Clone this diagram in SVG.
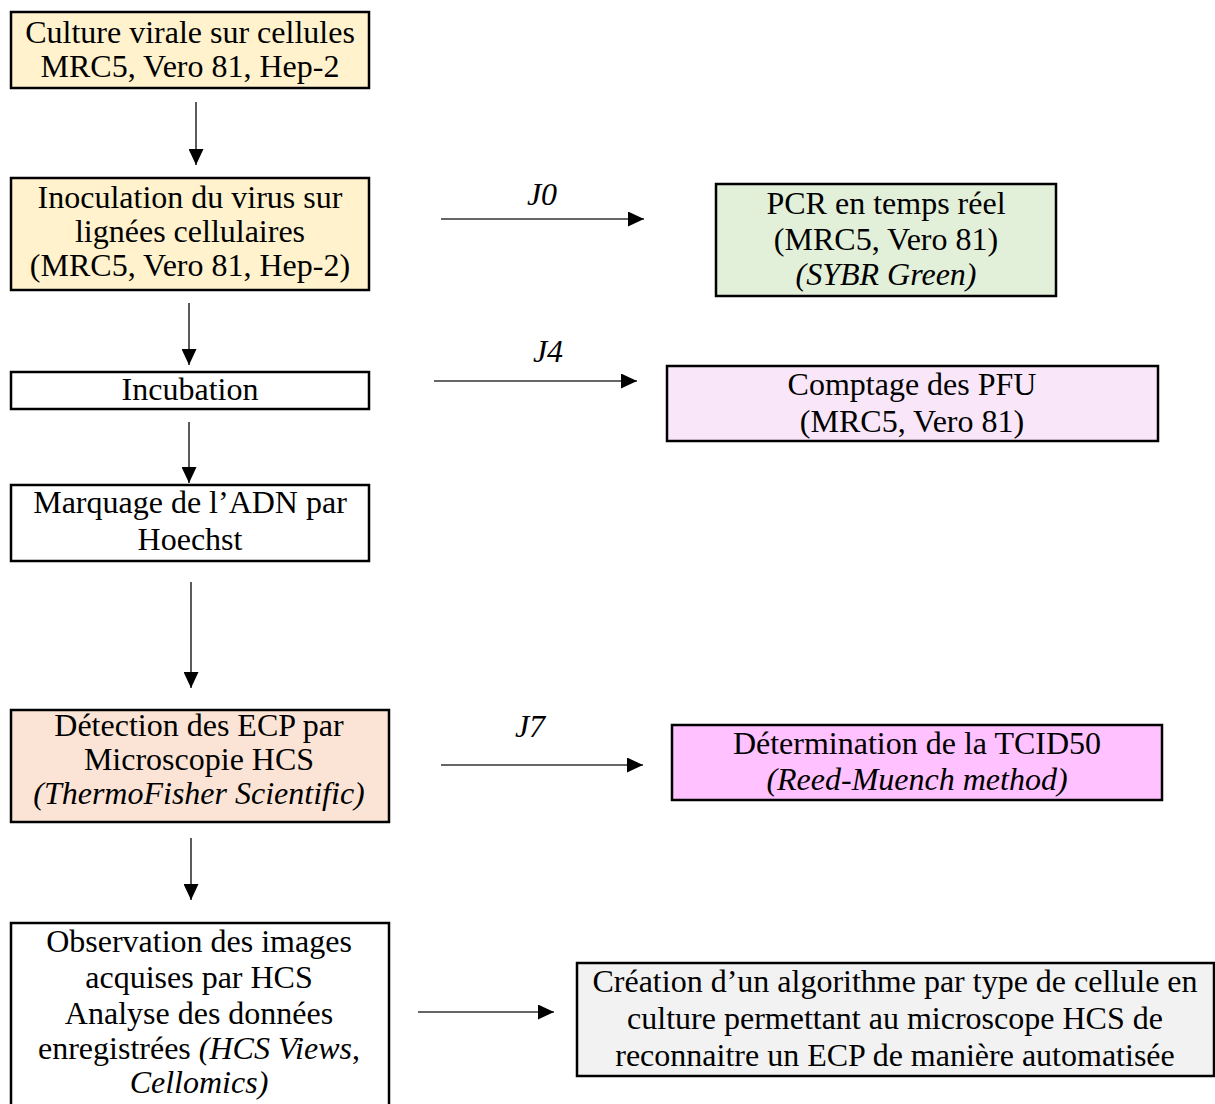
<svg xmlns="http://www.w3.org/2000/svg" width="1215" height="1104" viewBox="0 0 1215 1104">
<style>
  .box { stroke: #000; stroke-width: 2.5; }
  .t { font-family: "Liberation Serif", "Times New Roman", serif; font-size: 32px; fill: #000; text-anchor: middle; }
  .i { font-style: italic; }
  .conn { stroke: #333; stroke-width: 1.6; fill: none; }
</style>
<defs>
  <marker id="ah" markerUnits="userSpaceOnUse" markerWidth="16" markerHeight="15" refX="16" refY="7.5" orient="auto">
    <path d="M0,0 L16,7.5 L0,15 z" fill="#000"/>
  </marker>
</defs>
<rect width="1215" height="1104" fill="#fff"/>

<g id="connectors">
  <line class="conn" x1="196" y1="102" x2="196" y2="165" marker-end="url(#ah)"/>
  <line class="conn" x1="189" y1="303" x2="189" y2="365" marker-end="url(#ah)"/>
  <line class="conn" x1="189" y1="422" x2="189" y2="483" marker-end="url(#ah)"/>
  <line class="conn" x1="191" y1="582" x2="191" y2="688" marker-end="url(#ah)"/>
  <line class="conn" x1="191" y1="838" x2="191" y2="900" marker-end="url(#ah)"/>
  <line class="conn" x1="441" y1="219" x2="644" y2="219" marker-end="url(#ah)"/>
  <line class="conn" x1="434" y1="381" x2="637" y2="381" marker-end="url(#ah)"/>
  <line class="conn" x1="441" y1="765" x2="643" y2="765" marker-end="url(#ah)"/>
  <line class="conn" x1="418" y1="1012" x2="554" y2="1012" marker-end="url(#ah)"/>
  <text class="t i" x="542" y="205">J0</text>
  <text class="t i" x="548" y="362">J4</text>
  <text class="t i" x="530" y="737">J7</text>
</g>

<g id="n-culture">
  <rect class="box" x="11" y="12" width="358" height="76" fill="#FFF2CC"/>
  <text class="t" x="190" y="43">Culture virale sur cellules</text>
  <text class="t" x="190" y="77">MRC5, Vero 81, Hep-2</text>
</g>

<g id="n-inoculation">
  <rect class="box" x="11" y="178" width="358" height="112" fill="#FFF2CC"/>
  <text class="t" x="190" y="208">Inoculation du virus sur</text>
  <text class="t" x="190" y="242">lignées cellulaires</text>
  <text class="t" x="190" y="276">(MRC5, Vero 81, Hep-2)</text>
</g>

<g id="n-incubation">
  <rect class="box" x="11" y="372" width="358" height="37" fill="#fff"/>
  <text class="t" x="190" y="400">Incubation</text>
</g>

<g id="n-marquage">
  <rect class="box" x="11" y="485" width="358" height="76" fill="#fff"/>
  <text class="t" x="190" y="513">Marquage de l’ADN par</text>
  <text class="t" x="190" y="550">Hoechst</text>
</g>

<g id="n-detection">
  <rect class="box" x="11" y="710" width="378" height="112" fill="#FBE4D5"/>
  <text class="t" x="199" y="736">Détection des ECP par</text>
  <text class="t" x="199" y="770">Microscopie HCS</text>
  <text class="t i" x="199" y="804">(ThermoFisher Scientific)</text>
</g>

<g id="n-observation">
  <rect class="box" x="11" y="923" width="378" height="200" fill="#fff"/>
  <text class="t" x="199" y="952">Observation des images</text>
  <text class="t" x="199" y="988">acquises par HCS</text>
  <text class="t" x="199" y="1024">Analyse des données</text>
  <text class="t" x="199" y="1059">enregistrées <tspan class="i">(HCS Views</tspan>,</text>
  <text class="t i" x="199" y="1093">Cellomics)</text>
</g>

<g id="n-pcr">
  <rect class="box" x="716" y="184" width="340" height="112" fill="#E2EFD9"/>
  <text class="t" x="886" y="214">PCR en temps réel</text>
  <text class="t" x="886" y="250">(MRC5, Vero 81)</text>
  <text class="t i" x="886" y="285">(SYBR Green)</text>
</g>

<g id="n-pfu">
  <rect class="box" x="667" y="366" width="491" height="75" fill="#F9E6F9"/>
  <text class="t" x="912" y="395">Comptage des PFU</text>
  <text class="t" x="912" y="432">(MRC5, Vero 81)</text>
</g>

<g id="n-tcid50">
  <rect class="box" x="672" y="725" width="490" height="75" fill="#FFC1FF"/>
  <text class="t" x="917" y="754">Détermination de la TCID50</text>
  <text class="t i" x="917" y="790">(Reed-Muench method)</text>
</g>

<g id="n-algo">
  <rect class="box" x="577" y="963" width="637" height="113" fill="#F2F2F2"/>
  <text class="t" x="895" y="992">Création d’un algorithme par type de cellule en</text>
  <text class="t" x="895" y="1029">culture permettant au microscope HCS de</text>
  <text class="t" x="895" y="1066">reconnaitre un ECP de manière automatisée</text>
</g>
</svg>
